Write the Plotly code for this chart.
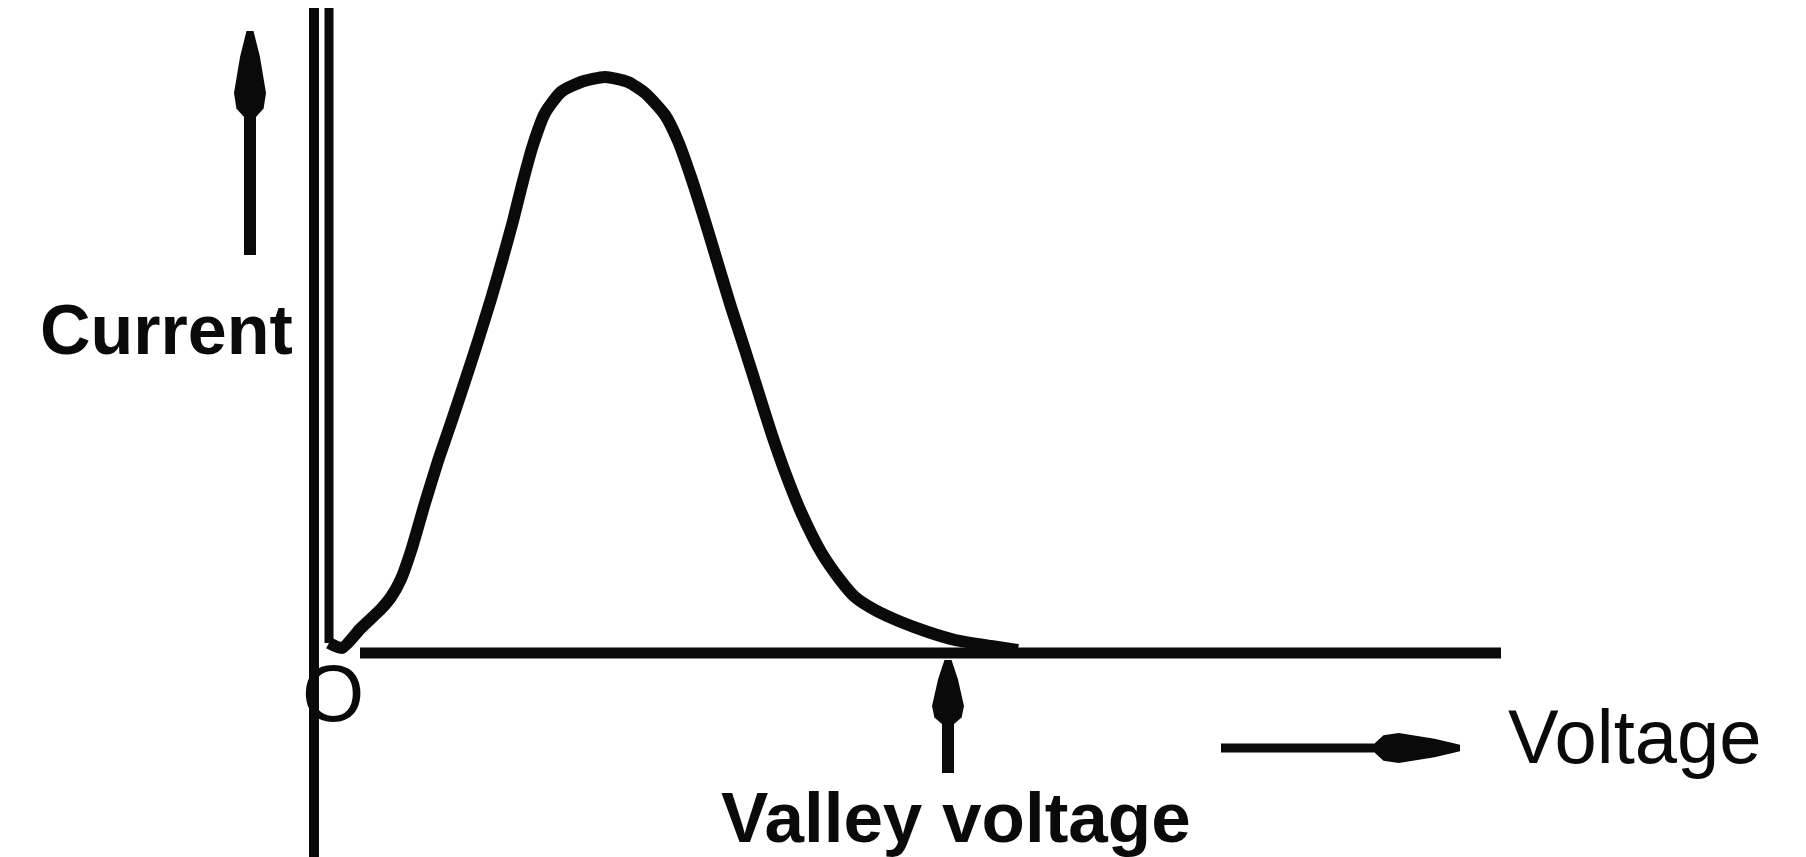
import plotly.graph_objects as go

# Tunnel-diode style I-V curve (arbitrary units, origin at O)
voltage = [0.15, 0.28, 0.47, 0.67, 0.77, 0.87, 0.97, 1.11, 1.24, 1.37, 1.51, 1.64, 1.77,
           1.88, 1.99, 2.09, 2.19, 2.31, 2.47, 2.67, 2.91, 3.14, 3.31, 3.51, 3.64,
           3.77, 3.91, 4.04, 4.17, 4.31, 4.44, 4.57, 4.71, 4.87, 5.07, 5.27, 5.41,
           5.61, 5.87, 6.14, 6.41, 6.77, 7.04]
current = [0.10, 0.05, 0.25, 0.44, 0.56, 0.74, 1.02, 1.50, 1.92, 2.30, 2.72, 3.12, 3.54,
           3.92, 4.32, 4.72, 5.08, 5.40, 5.61, 5.71, 5.76, 5.71, 5.60, 5.38, 5.12,
           4.76, 4.32, 3.89, 3.46, 3.03, 2.62, 2.21, 1.81, 1.41, 1.01, 0.72, 0.56,
           0.43, 0.31, 0.21, 0.13, 0.07, 0.03]

# second (inner) vertical stroke beside the current axis
inner_v = [0.15, 0.15]
inner_i = [6.60, 0.10]

# axes extents
x_axis_v = [0.46, 11.87]
x_axis_i = [0.0, 0.0]
y_axis_v = [0.0, 0.0]
y_axis_i = [6.60, -2.30]

# arrows: (tail, tip) in data units
up_arrow_x, up_arrow_tail, up_arrow_tip = -0.64, 3.98, 6.22
valley_v, valley_tail, valley_tip = 6.34, -1.20, -0.07
volt_arrow_y, volt_arrow_tail, volt_arrow_tip = -0.95, 9.07, 11.46

labels = {"current": "Current", "voltage": "Voltage", "valley": "Valley voltage", "origin": "O"}

ink = "#0a0a0a"
font_r = "Liberation Sans, Arial, sans-serif"


def spindle_path(tip_x, tip_y, dx, dy, length, width, shaft):
    """Closed SVG path of an elongated arrow head with its tip at (tip_x, tip_y);
    the head body extends from the tip along (dx, dy)."""
    profile = [(0.0, 0.22), (0.3, 0.62), (0.72, 1.0), (0.9, 0.85), (1.0, shaft / width)]
    px, py = -dy, dx  # perpendicular
    left, right = [], []
    for s, w in profile:
        cx, cy = tip_x + dx * s * length, tip_y + dy * s * length
        hw = w * width / 2
        left.append((cx + px * hw, cy + py * hw))
        right.append((cx - px * hw, cy - py * hw))
    pts = left + right[::-1]
    return "M " + " L ".join(f"{x:.4f},{y:.4f}" for x, y in pts) + " Z"


fig = go.Figure()
fig.add_trace(go.Scatter(x=y_axis_v, y=y_axis_i, mode="lines",
                         line=dict(color=ink, width=10), hoverinfo="skip"))
fig.add_trace(go.Scatter(x=inner_v, y=inner_i, mode="lines",
                         line=dict(color=ink, width=9), hoverinfo="skip"))
fig.add_trace(go.Scatter(x=x_axis_v, y=x_axis_i, mode="lines",
                         line=dict(color=ink, width=11), hoverinfo="skip"))
fig.add_trace(go.Scatter(x=voltage, y=current, mode="lines",
                         line=dict(color=ink, width=12, shape="spline", smoothing=0.6),
                         hoverinfo="skip"))
# arrow shafts
fig.add_trace(go.Scatter(x=[up_arrow_x, up_arrow_x], y=[up_arrow_tail, up_arrow_tip - 0.6],
                         mode="lines", line=dict(color=ink, width=12), hoverinfo="skip"))
fig.add_trace(go.Scatter(x=[valley_v, valley_v], y=[valley_tail, valley_tip - 0.4],
                         mode="lines", line=dict(color=ink, width=12), hoverinfo="skip"))
fig.add_trace(go.Scatter(x=[volt_arrow_tail, volt_arrow_tip - 0.6], y=[volt_arrow_y, volt_arrow_y],
                         mode="lines", line=dict(color=ink, width=9), hoverinfo="skip"))

shapes = [
    dict(type="path", xref="x", yref="y", fillcolor=ink, line=dict(width=0),
         path=spindle_path(up_arrow_x, up_arrow_tip, 0, -1, 0.86, 0.32, 0.12)),
    dict(type="path", xref="x", yref="y", fillcolor=ink, line=dict(width=0),
         path=spindle_path(valley_v, valley_tip, 0, -1, 0.64, 0.32, 0.12)),
    dict(type="path", xref="x", yref="y", fillcolor=ink, line=dict(width=0),
         path=spindle_path(volt_arrow_tip, volt_arrow_y, -1, 0, 0.85, 0.30, 0.10)),
]

annotations = [
    dict(x=-0.19, y=3.23, xref="x", yref="y", text="<b>" + labels["current"] + "</b>",
         showarrow=False, xanchor="right", yanchor="middle",
         font=dict(family=font_r, size=70, color=ink)),
    dict(x=11.92, y=-0.83, xref="x", yref="y", text=labels["voltage"],
         showarrow=False, xanchor="left", yanchor="middle",
         font=dict(family=font_r, size=76, color=ink)),
    dict(x=valley_v + 0.08, y=-1.64, xref="x", yref="y", text="<b>" + labels["valley"] + "</b>",
         showarrow=False, xanchor="center", yanchor="middle",
         font=dict(family=font_r, size=71, color=ink)),
    dict(x=0.19, y=-0.40, xref="x", yref="y", text=labels["origin"],
         showarrow=False, xanchor="center", yanchor="middle",
         font=dict(family=font_r, size=80, color=ink)),
]

fig.update_layout(
    width=1806, height=857, autosize=False,
    margin=dict(l=0, r=0, t=0, b=0),
    paper_bgcolor="white", plot_bgcolor="white",
    showlegend=False,
    xaxis=dict(range=[-3.06, 15.0], visible=False, fixedrange=True),
    yaxis=dict(range=[-2.12, 6.45], visible=False, fixedrange=True),
    shapes=shapes,
    annotations=annotations,
)

fig.write_html("out.html")
